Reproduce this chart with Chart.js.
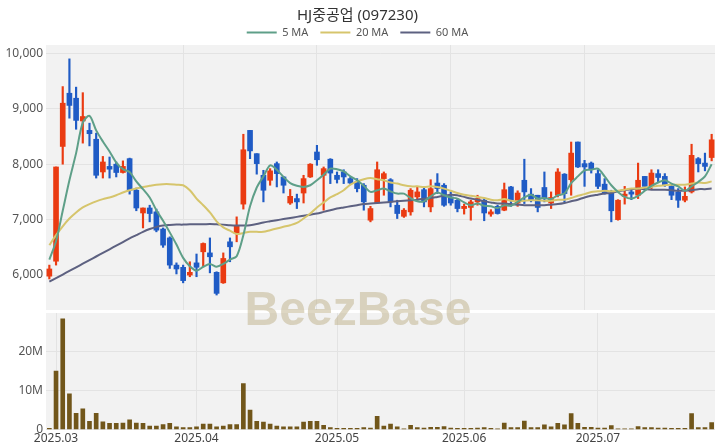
<!DOCTYPE html>
<html>
<head>
<meta charset="utf-8">
<script src="https://cdn.jsdelivr.net/npm/chart.js@4.4.1/dist/chart.umd.min.js"></script>
<style>
  body { margin: 0; background: #fff; }
  #wrap { position: relative; width: 720px; height: 448px; }
  #price { position: absolute; left: 0; top: 0; }
  #vol { position: absolute; left: 0; top: 311px; }
  #mark {
    position: absolute; left: -2px; top: 285px; width: 720px; text-align: center;
    font: bold 48px "Liberation Sans", Arial, sans-serif; line-height: 48px;
    color: rgba(190, 175, 135, 0.5); pointer-events: none;
  }
</style>
</head>
<body>
<div id="wrap">
  <canvas id="price" width="720" height="311"></canvas>
  <canvas id="vol" width="720" height="137"></canvas>
  <div id="mark">BeezBase</div>
</div>
<script>
// daily candles (KRW)
var opens = [5980, 6250, 8320, 9280, 9190, 8780, 8610, 8450, 7860, 7960,
  8000, 7850, 8100, 7530, 7120, 7210, 7140, 6830, 6670, 6180,
  6140, 6000, 6220, 6420, 6400, 6050, 5860, 6600, 6750, 7280,
  8610, 8190, 7800, 7710, 8010, 7770, 7300, 7380, 7480, 7770,
  8220, 7800, 8090, 7800, 7860, 7740, 7680, 7620, 6990, 7300,
  7740, 7720, 7260, 7060, 7140, 7410, 7540, 7230, 7660, 7620,
  7410, 7350, 7200, 7220, 7320, 7350, 7100, 7240, 7170, 7590,
  7300, 7710, 7460, 7440, 7580, 7300, 7440, 7820, 7720, 8400,
  8010, 8020, 7830, 7640, 7480, 7000, 7420, 7500, 7440, 7780,
  7600, 7830, 7780, 7600, 7500, 7350, 7500, 8100, 8020, 8120];
var highs = [6180, 7950, 9400, 9900, 9390, 9290, 8740, 8560, 8140, 8130,
  8040, 8060, 8110, 7570, 7210, 7260, 7190, 6850, 6690, 6220,
  6180, 6240, 6380, 6580, 6670, 6060, 6400, 6670, 7050, 8540,
  8610, 8190, 7890, 7920, 8040, 7780, 7545, 7460, 7800, 8010,
  8340, 7950, 8100, 7860, 7900, 7770, 7740, 7650, 7240, 8040,
  7860, 7740, 7350, 7200, 7560, 7590, 7590, 7720, 7830, 7650,
  7500, 7380, 7280, 7350, 7440, 7380, 7180, 7260, 7660, 7600,
  7520, 8090, 7560, 7440, 7860, 7500, 7920, 7830, 8400, 8400,
  8070, 8040, 7900, 7740, 7530, 7360, 7600, 7560, 8020, 7780,
  7900, 7900, 7830, 7650, 7560, 7590, 8360, 8120, 8200, 8540];
var lows = [5930, 6180, 8000, 8830, 8630, 8380, 8330, 7750, 7750, 7750,
  7770, 7840, 7460, 7160, 6850, 6960, 6780, 6500, 6120, 6020,
  5860, 5970, 5970, 6150, 6040, 5640, 5850, 6240, 6600, 7190,
  8100, 7820, 7320, 7620, 7590, 7480, 7275, 7200, 7300, 7760,
  7980, 7170, 7650, 7660, 7650, 7640, 7500, 7170, 6960, 7290,
  7440, 7230, 7020, 7040, 7080, 7350, 7230, 7140, 7470, 7240,
  7260, 7140, 7100, 6990, 7260, 6980, 7060, 7100, 7160, 7240,
  7240, 7290, 7320, 7140, 7320, 7200, 7410, 7320, 7440, 7940,
  7600, 7840, 7560, 7460, 6960, 6990, 7280, 7360, 7380, 7530,
  7560, 7680, 7600, 7360, 7220, 7320, 7480, 7860, 7880, 8060];
var closes = [6110, 7950, 9100, 9060, 8790, 8860, 8550, 7800, 8040, 7910,
  7850, 7960, 7530, 7210, 7210, 7110, 6810, 6540, 6180, 6110,
  5900, 6050, 6140, 6570, 6330, 5670, 6300, 6510, 6880, 8260,
  8240, 8010, 7530, 7880, 7830, 7620, 7420, 7320, 7740, 8000,
  8080, 7920, 7840, 7725, 7770, 7660, 7560, 7320, 7200, 7900,
  7830, 7320, 7110, 7170, 7530, 7500, 7320, 7560, 7560, 7260,
  7300, 7200, 7240, 7320, 7380, 7120, 7140, 7110, 7540, 7350,
  7480, 7500, 7360, 7220, 7380, 7400, 7860, 7470, 8200, 7950,
  7950, 7920, 7600, 7480, 7160, 7350, 7460, 7460, 7710, 7600,
  7840, 7760, 7620, 7440, 7350, 7420, 8160, 8010, 7960, 8440];

// moving average lines as drawn in the picture
var ma5 = [6280, 6610, 7160, 7710, 8200, 8750, 8870, 8610, 8410, 8230,
  8030, 7910, 7860, 7690, 7550, 7400, 7170, 6980, 6770, 6550,
  6310, 6160, 6080, 6150, 6200, 6150, 6200, 6280, 6340, 6720,
  7240, 7580, 7780, 7980, 7900, 7770, 7660, 7610, 7590, 7620,
  7710, 7810, 7920, 7910, 7870, 7780, 7710, 7610, 7500, 7530,
  7560, 7510, 7470, 7470, 7390, 7330, 7330, 7420, 7490, 7440,
  7400, 7380, 7310, 7260, 7290, 7250, 7240, 7210, 7260, 7250,
  7320, 7400, 7450, 7380, 7390, 7370, 7440, 7470, 7660, 7780,
  7890, 7900, 7920, 7780, 7620, 7500, 7410, 7380, 7430, 7520,
  7610, 7670, 7710, 7650, 7600, 7520, 7600, 7680, 7780, 8000];
var ma20 = [6540, 6720, 6880, 7020, 7130, 7220, 7280, 7330, 7370, 7400,
  7440, 7490, 7530, 7560, 7590, 7610, 7630, 7640, 7640, 7630,
  7620, 7530, 7380, 7260, 7130, 6970, 6860, 6800, 6740, 6760,
  6780, 6780, 6780, 6810, 6840, 6870, 6900, 6940, 7020, 7110,
  7220, 7310, 7400, 7460, 7530, 7630, 7690, 7730, 7750, 7730,
  7710, 7670, 7650, 7620, 7600, 7600, 7590, 7600, 7590, 7560,
  7520, 7480, 7450, 7430, 7410, 7390, 7360, 7350, 7370, 7340,
  7330, 7340, 7350, 7350, 7340, 7340, 7360, 7360, 7390, 7430,
  7460, 7500, 7510, 7520, 7510, 7520, 7540, 7560, 7560, 7580,
  7590, 7610, 7620, 7630, 7630, 7630, 7650, 7670, 7660, 7690];
var ma60 = [5880, 5945, 6010, 6075, 6140, 6205, 6270, 6335, 6400, 6465,
  6530, 6595, 6660, 6720, 6780, 6830, 6870, 6895, 6905, 6910,
  6910, 6915, 6915, 6915, 6920, 6915, 6910, 6900, 6895, 6895,
  6900, 6920, 6950, 6970, 6990, 7010, 7030, 7050, 7070, 7090,
  7110, 7140, 7170, 7200, 7220, 7240, 7260, 7280, 7290, 7300,
  7310, 7320, 7330, 7340, 7350, 7360, 7375, 7390, 7410, 7430,
  7450, 7440, 7410, 7380, 7360, 7330, 7310, 7290, 7290, 7280,
  7270, 7260, 7260, 7260, 7260, 7270, 7280, 7300, 7330, 7360,
  7400, 7430, 7450, 7470, 7480, 7510, 7530, 7550, 7560, 7550,
  7540, 7540, 7540, 7530, 7520, 7520, 7530, 7550, 7550, 7560];

// volume, millions of shares
var volumes = [0.3, 15.0, 28.4, 9.2, 4.2, 5.3, 2.1, 4.2, 2.0, 1.6,
  1.6, 1.7, 2.5, 1.7, 1.6, 0.9, 0.9, 1.3, 1.6, 0.7,
  0.5, 0.5, 0.7, 1.4, 1.4, 0.7, 0.9, 1.3, 1.3, 11.8,
  5.0, 2.1, 1.9, 1.4, 0.9, 0.7, 0.7, 0.7, 1.9, 2.1,
  2.1, 1.1, 0.5, 0.3, 0.3, 0.3, 0.3, 0.5, 0.4, 3.4,
  0.9, 1.4, 0.7, 0.2, 1.1, 0.5, 0.4, 0.6, 0.6, 0.8,
  0.4, 0.3, 0.3, 0.3, 0.4, 0.5, 0.3, 0.2, 1.7, 0.5,
  0.5, 2.2, 0.5, 0.5, 1.2, 0.7, 1.6, 1.2, 4.1, 1.6,
  0.6, 0.6, 0.4, 0.4, 1.0, 0.2, 0.2, 0.2, 0.8, 0.5,
  0.5, 0.4, 0.4, 0.3, 0.3, 0.3, 4.1, 0.5, 0.5, 1.8];

var priceTicks = [6000, 7000, 8000, 9000, 10000];
var volumeTicks = [0, 10, 20];
var monthIdx = [1, 22, 43, 62, 82];
var monthLabels = ['2025.03', '2025.04', '2025.05', '2025.06', '2025.07'];
var priceGridIdx = [20, 40, 60, 80];

var UP = '#ea3b12';
var DOWN = '#1f5bc5';
Chart.defaults.font.family = '"Noto Sans", "Noto Sans CJK KR", sans-serif';

var labels = closes.map(function(c, i) { return i; });
var candleColors = closes.map(function(c, i) { return c >= opens[i] ? UP : DOWN; });

var plotBg = {
  id: 'plotBg',
  beforeDraw: function(chart) {
    var a = chart.chartArea, ctx = chart.ctx;
    ctx.save();
    ctx.fillStyle = '#f2f2f2';
    ctx.fillRect(a.left, a.top, a.right - a.left, a.bottom - a.top);
    ctx.restore();
  }
};

// the legend keeps a fixed 10px gap under its row; trim part of it
var legendTrim = {
  id: 'legendTrim',
  afterInit: function(chart) {
    var lg = chart.legend;
    var fit = lg.fit;
    lg.fit = function() { fit.call(this); this.height -= 3; };
  }
};

function maLine(label, data, color) {
  return {
    type: 'line', label: label, data: data,
    borderColor: color, backgroundColor: color, borderWidth: 2,
    pointRadius: 0, tension: 0.3, order: 0
  };
}

function fixedTicks(values) {
  return function(s) {
    s.ticks = values.map(function(v) { return { value: v }; });
  };
}

// fixed axis width, no extra room kept for half labels at the ends
function yFit(s) {
  s.width = 46;
  s.paddingTop = 0;
  s.paddingBottom = 0;
}

new Chart(document.getElementById('price'), {
  type: 'bar',
  data: {
    labels: labels,
    datasets: [
      maLine('5 MA', ma5, '#5e9f88'),
      maLine('20 MA', ma20, '#d6c56c'),
      maLine('60 MA', ma60, '#5d6181'),
      {
        label: 'body', data: opens.map(function(o, i) { return [o, closes[i]]; }),
        backgroundColor: candleColors, barThickness: 5, minBarLength: 1, grouped: false, order: 1
      },
      {
        label: 'wick', data: lows.map(function(l, i) { return [l, highs[i]]; }),
        backgroundColor: candleColors, barThickness: 1.5, grouped: false, order: 2
      }
    ]
  },
  options: {
    responsive: false,
    animation: false,
    layout: { padding: { left: 0, right: 5, top: 0, bottom: 1 } },
    plugins: {
      title: {
        display: true, text: 'HJ중공업 (097230)', color: '#333',
        font: { size: 15, weight: 'normal' }, padding: { top: 7, bottom: -10 }
      },
      legend: {
        labels: {
          boxWidth: 30, boxHeight: 2, padding: 12, color: '#555', font: { size: 11 },
          generateLabels: function(chart) {
            return chart.data.datasets.slice(0, 3).map(function(d, i) {
              return { text: d.label, fillStyle: d.borderColor, strokeStyle: d.borderColor,
                lineWidth: 0, datasetIndex: i, hidden: false, fontColor: '#555' };
            });
          }
        }
      },
      tooltip: { enabled: false }
    },
    scales: {
      x: {
        offset: true,
        ticks: { display: false, autoSkip: false },
        grid: { color: '#e3e3e3', offset: false, drawTicks: false },
        border: { display: false },
        afterBuildTicks: function(s) {
          s.ticks = s.ticks.filter(function(t) { return priceGridIdx.indexOf(t.value) >= 0; });
        }
      },
      y: {
        min: 5370, max: 10150,
        afterBuildTicks: fixedTicks(priceTicks),
        ticks: {
          color: '#555', font: { size: 12 }, padding: 3,
          callback: function(v) { return v.toLocaleString('en-US'); }
        },
        grid: { color: '#e3e3e3', drawTicks: false },
        border: { display: false },
        afterFit: yFit
      }
    }
  },
  plugins: [plotBg, legendTrim]
});

new Chart(document.getElementById('vol'), {
  type: 'bar',
  data: {
    labels: labels,
    datasets: [{ label: 'volume', data: volumes, backgroundColor: '#71561a', barThickness: 4 }]
  },
  options: {
    responsive: false,
    animation: false,
    layout: { padding: { left: 0, right: 5, top: 2, bottom: 0 } },
    plugins: { legend: { display: false }, tooltip: { enabled: false } },
    scales: {
      x: {
        ticks: {
          autoSkip: false, maxRotation: 0, color: '#444', font: { size: 12 }, padding: 2,
          callback: function(v) { return monthLabels[monthIdx.indexOf(v)]; }
        },
        grid: { color: '#e3e3e3', offset: false, drawTicks: false },
        border: { display: false },
        afterBuildTicks: function(s) {
          s.ticks = s.ticks.filter(function(t) { return monthIdx.indexOf(t.value) >= 0; });
        }
      },
      y: {
        min: 0, max: 29.9,
        afterBuildTicks: fixedTicks(volumeTicks),
        ticks: {
          color: '#555', font: { size: 12 }, padding: 3,
          callback: function(v) { return v === 0 ? '0' : v + 'M'; }
        },
        grid: { color: '#e3e3e3', drawTicks: false },
        border: { display: false },
        afterFit: yFit
      }
    }
  },
  plugins: [plotBg]
});
</script>
</body>
</html>
